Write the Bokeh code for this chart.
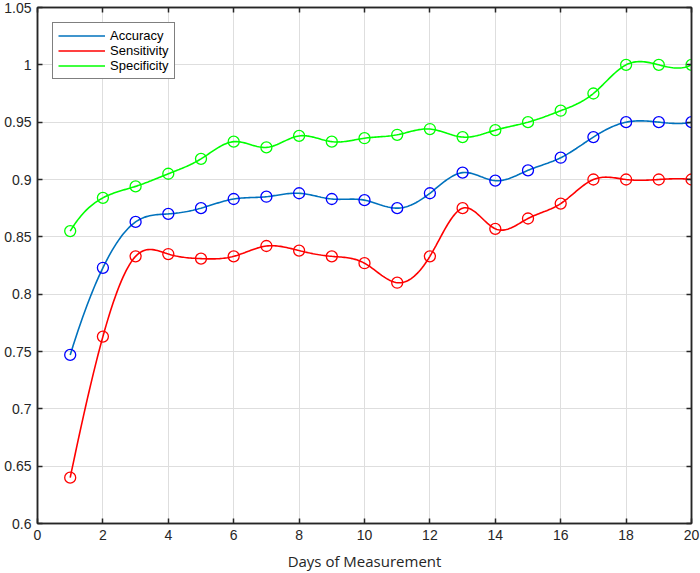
import numpy as np
from bokeh.plotting import figure
from bokeh.models import Range1d, FixedTicker, LinearAxis, Legend, LegendItem
from bokeh.embed import file_html
from bokeh.resources import INLINE

days = list(range(1, 21))
accuracy = [0.747, 0.823, 0.863, 0.870, 0.875, 0.883, 0.885, 0.888, 0.883, 0.882,
            0.875, 0.888, 0.906, 0.899, 0.908, 0.919, 0.937, 0.950, 0.950, 0.950]
sensitivity = [0.640, 0.763, 0.833, 0.835, 0.831, 0.833, 0.842, 0.838, 0.833, 0.827,
               0.810, 0.833, 0.875, 0.857, 0.866, 0.879, 0.900, 0.900, 0.900, 0.900]
specificity = [0.855, 0.884, 0.894, 0.905, 0.918, 0.933, 0.928, 0.938, 0.933, 0.936,
               0.939, 0.944, 0.937, 0.943, 0.950, 0.960, 0.975, 1.000, 1.000, 1.000]

x_ticks = [0, 2, 4, 6, 8, 10, 12, 14, 16, 18, 20]
x_tick_labels = ["0", "2", "4", "6", "8", "10", "12", "14", "16", "18", "20"]
y_ticks = [0.6, 0.65, 0.7, 0.75, 0.8, 0.85, 0.9, 0.95, 1.0, 1.05]
y_tick_labels = ["0.6", "0.65", "0.7", "0.75", "0.8", "0.85", "0.9", "0.95", "1", "1.05"]

series = [
    ("Accuracy", accuracy, "#0072BD", "#0000FF"),
    ("Sensitivity", sensitivity, "#FF0000", "#FF0000"),
    ("Specificity", specificity, "#00FF00", "#00FF00"),
]


def spline_not_a_knot(x, y, xs):
    x = np.asarray(x, float)
    y = np.asarray(y, float)
    n = len(x)
    h = np.diff(x)
    A = np.zeros((n, n))
    r = np.zeros(n)
    A[0, 0] = h[1]
    A[0, 1] = -(h[0] + h[1])
    A[0, 2] = h[0]
    A[-1, -3] = h[-1]
    A[-1, -2] = -(h[-2] + h[-1])
    A[-1, -1] = h[-2]
    for i in range(1, n - 1):
        A[i, i - 1] = h[i - 1]
        A[i, i] = 2 * (h[i - 1] + h[i])
        A[i, i + 1] = h[i]
        r[i] = 6 * ((y[i + 1] - y[i]) / h[i] - (y[i] - y[i - 1]) / h[i - 1])
    M = np.linalg.solve(A, r)
    idx = np.clip(np.searchsorted(x, xs) - 1, 0, n - 2)
    t = xs - x[idx]
    hi = h[idx]
    b = (y[idx + 1] - y[idx]) / hi - hi * (2 * M[idx] + M[idx + 1]) / 6
    return y[idx] + b * t + M[idx] / 2 * t ** 2 + (M[idx + 1] - M[idx]) / (6 * hi) * t ** 3


AXIS_COLOR = "#262626"
TICK_FONT = "Liberation Sans"

p = figure(width=700, height=573, output_backend="svg", toolbar_location=None,
           x_range=Range1d(0, 20), y_range=Range1d(0.6, 1.05),
           min_border_left=37, min_border_right=9, min_border_top=7, min_border_bottom=50)
p.background_fill_color = "white"
p.border_fill_color = "white"
p.outline_line_color = AXIS_COLOR
p.outline_line_width = 1.5

xs = np.linspace(1, 20, 400)
items = []
for name, vals, lc, mc in series:
    ys = spline_not_a_knot(days, vals, xs)
    r = p.line(xs, ys, line_color=lc, line_width=1.6)
    p.scatter(days, vals, marker="circle", size=11, fill_color=None,
              line_color=mc, line_width=1.3)
    items.append(LegendItem(label=name, renderers=[r]))

for ax in p.xaxis:
    ax.ticker = FixedTicker(ticks=x_ticks)
    ax.major_label_overrides = {t: l for t, l in zip(x_ticks, x_tick_labels)}
    ax.axis_label = "Days of Measurement"
    ax.axis_label_text_font = "Open Sans"
    ax.axis_label_text_font_style = "normal"
    ax.axis_label_text_font_size = "15px"
    ax.axis_label_text_color = AXIS_COLOR
    ax.axis_label_standoff = 8
for ax in p.yaxis:
    ax.ticker = FixedTicker(ticks=y_ticks)
    ax.major_label_overrides = {t: l for t, l in zip(y_ticks, y_tick_labels)}
for ax in list(p.xaxis) + list(p.yaxis):
    ax.axis_line_color = AXIS_COLOR
    ax.axis_line_width = 1.5
    ax.major_tick_line_color = AXIS_COLOR
    ax.major_tick_line_width = 1.5
    ax.major_tick_in = 5
    ax.major_tick_out = 0
    ax.minor_tick_line_color = None
    ax.major_label_text_font = TICK_FONT
    ax.major_label_text_font_size = "14px"
    ax.major_label_text_color = AXIS_COLOR
    ax.major_label_standoff = 6


def box_axis(ticks):
    return LinearAxis(ticker=FixedTicker(ticks=ticks), major_label_text_color=None,
                      major_label_text_font_size="1px",
                      major_tick_in=5, major_tick_out=0, minor_tick_line_color=None,
                      axis_line_color=AXIS_COLOR, axis_line_width=1.5,
                      major_tick_line_color=AXIS_COLOR, major_tick_line_width=1.5,
                      major_label_standoff=0)


p.add_layout(box_axis(x_ticks), "above")
p.add_layout(box_axis(y_ticks), "right")

p.xgrid.ticker = FixedTicker(ticks=x_ticks)
p.ygrid.ticker = FixedTicker(ticks=y_ticks)
p.grid.grid_line_color = "#dedede"
p.grid.grid_line_width = 1

legend = Legend(items=items, location="top_left", margin=15, padding=5,
                spacing=0, glyph_width=47, glyph_height=15, label_height=15,
                label_standoff=5, label_text_font=TICK_FONT,
                label_text_font_size="13px", label_text_color="#000000",
                border_line_color="#000000", border_line_width=1,
                background_fill_color="white", background_fill_alpha=1)
p.add_layout(legend, "center")

open("out.html", "w").write(file_html(p, INLINE))
